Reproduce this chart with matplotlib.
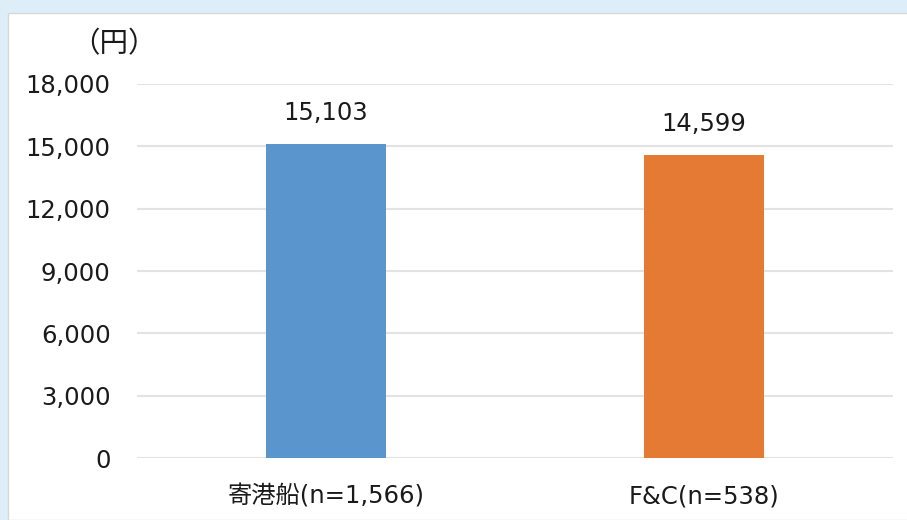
import matplotlib.pyplot as plt
from matplotlib.patches import Rectangle
from matplotlib.ticker import FuncFormatter

plt.rcParams['font.family'] = ['DejaVu Sans', 'Noto Sans CJK JP']

# Average amount per visitor group
categories = ["寄港船(n=1,566)", "F&C(n=538)"]
values = [15103, 14599]
colors = ["#5A96CD", "#E57A35"]
yticks = [0, 3000, 6000, 9000, 12000, 15000, 18000]

fs = 17.5

fig = plt.figure(figsize=(9.07, 5.20), dpi=100)
fig.patch.set_facecolor("#DDEEF8")

# white panel behind the chart
panel = Rectangle((8 / 907, 0), 1, (520 - 13) / 520, transform=fig.transFigure,
                  facecolor="white", edgecolor="#D8D8D8", linewidth=1, zorder=-10)
fig.add_artist(panel)

ax = fig.add_axes([137 / 907, (520 - 458) / 520, (893 - 137) / 907, (458 - 84) / 520])
ax.set_facecolor("none")

x = range(len(categories))
ax.bar(x, values, width=0.315, color=colors, zorder=3)

for xi, v in zip(x, values):
    ax.text(xi, v + 900, f"{v:,}", ha="center", va="bottom", fontsize=fs, color="#1A1A1A")

ax.set_xlim(-0.5, len(categories) - 0.5)
ax.set_ylim(0, 18000)
ax.set_yticks(yticks)
ax.yaxis.set_major_formatter(FuncFormatter(lambda v, p: f"{int(v):,}"))
ax.set_xticks(list(x))
ax.set_xticklabels(categories)

ax.grid(axis="y", color="#E3E3E3", linewidth=1.5, zorder=0)
for s in ax.spines.values():
    s.set_visible(False)
ax.tick_params(axis="both", length=0, labelsize=fs, colors="#1A1A1A")
ax.tick_params(axis="y", pad=19)
ax.tick_params(axis="x", pad=19)

fig.text(114 / 907, 1 - 44 / 520, "（円）", ha="center", va="center", fontsize=fs + 3,
         color="#1A1A1A", family=["Noto Sans CJK JP", "DejaVu Sans"])

fig.savefig("out.png", dpi=100, facecolor=fig.get_facecolor())
